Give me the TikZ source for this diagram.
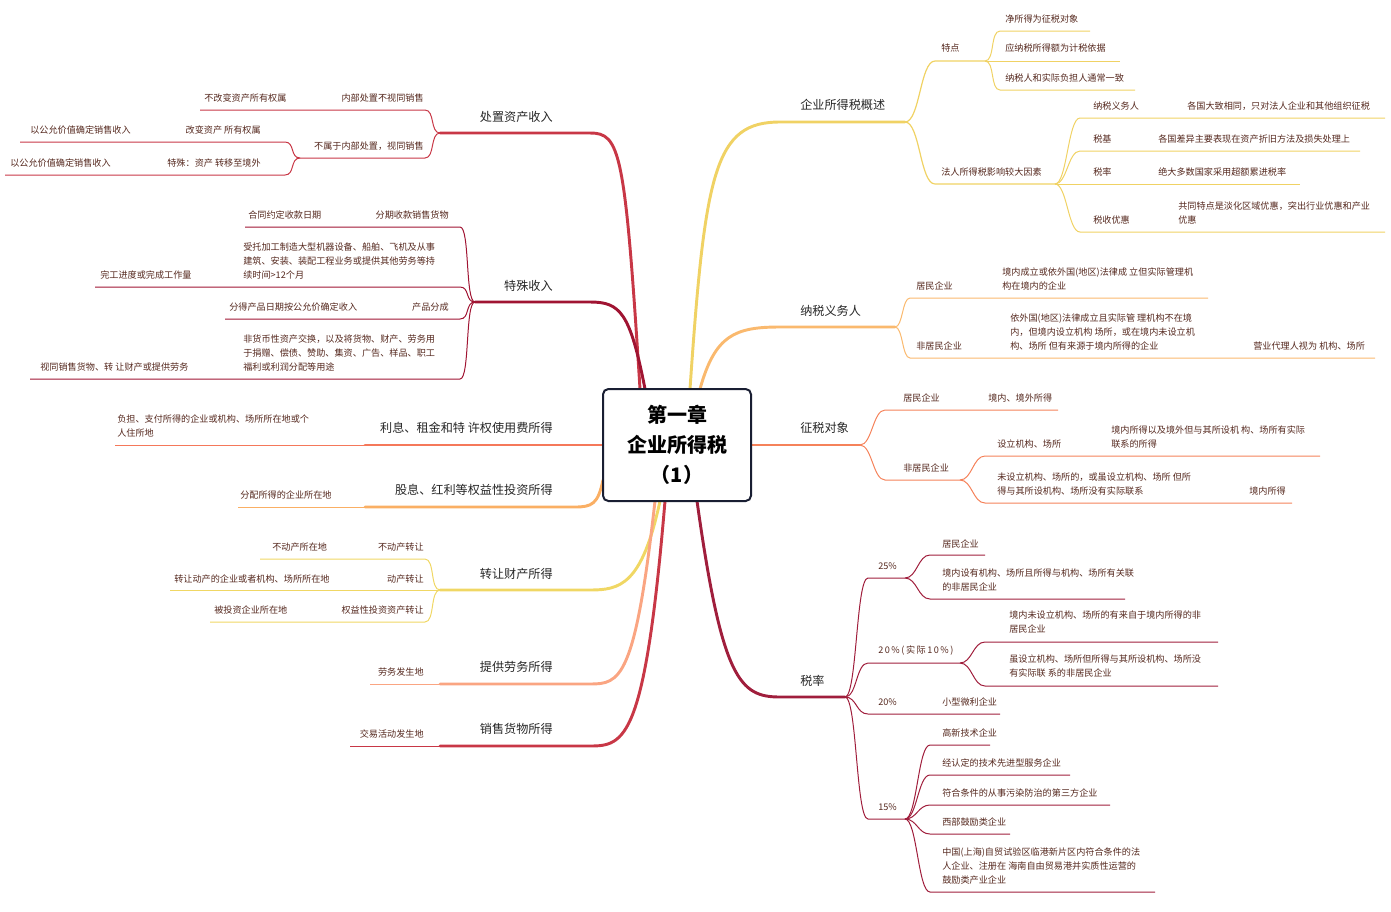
\documentclass[tikz,border=0pt]{standalone}
\usepackage{fontspec}
\setmainfont{Noto Sans CJK SC}
\usetikzlibrary{positioning}
\definecolor{gsum}{RGB}{240,210,100}
\definecolor{gduty}{RGB}{250,185,110}
\definecolor{gobj}{RGB}{245,130,90}
\definecolor{grate}{RGB}{160,30,60}
\definecolor{gdisp}{RGB}{200,55,70}
\definecolor{gspec}{RGB}{160,20,50}
\definecolor{gint}{RGB}{245,120,90}
\definecolor{gdiv}{RGB}{250,175,100}
\definecolor{gtran}{RGB}{240,215,100}
\definecolor{gserv}{RGB}{250,165,130}
\definecolor{leafc}{RGB}{85,40,30}
\definecolor{navy}{RGB}{25,30,50}

\begin{document}
\begin{tikzpicture}[x=0.75pt, y=-0.75pt,
    leaf/.style={font=\fontsize{6.85}{10.5}\selectfont, text=leafc, inner sep=0pt, anchor=west, align=left},
    leafr/.style={leaf, anchor=east},
    branch/.style={font=\fontsize{9.1}{11}\selectfont, text=black!85, inner sep=0pt, anchor=west},
    branchr/.style={branch, anchor=east},
    main/.style={line width=2.2pt, line cap=round},
    mid/.style={line width=0.9pt},
    thin/.style={line width=0.75pt},
]
\useasboundingbox (0,0) rectangle (1391,911);

% right: overview
\draw[main, gsum] (690,389) .. controls (705,170) and (715,122) .. (780,122) -- (905,122);
\node[branch] (sum) at (800,105) {企业所得税概述};
\coordinate (sumF) at (905,122);
\draw[mid, gsum] (sumF) .. controls +(15,0) and +(-15,0) .. (935,61) -- (985,61);
\node[leaf] (feat) at (941,48) {特点};
\coordinate (featF) at (985,61);
\draw[thin, gsum] (featF) .. controls +(10,0) and +(-10,0) .. (1000,31) -- (1090,31);
\draw[thin, gsum] (featF) -- (1120,61);
\draw[thin, gsum] (featF) .. controls +(10,0) and +(-10,0) .. (1000,90) -- (1135,90);
\node[leaf] (feat1) at (1005,19) {净所得为征税对象};
\node[leaf] (feat2) at (1005,48) {应纳税所得额为计税依据};
\node[leaf] (feat3) at (1005,78) {纳税人和实际负担人通常一致};
\draw[mid, gsum] (sumF) .. controls +(15,0) and +(-15,0) .. (935,184) -- (1055,184);
\node[leaf] (fact) at (941,172) {法人所得税影响较大因素};
\coordinate (factF) at (1055,184);
\draw[thin, gsum] (factF) .. controls +(12,0) and +(-12,0) .. (1080,118) -- (1385,118);
\draw[thin, gsum] (factF) .. controls +(12,0) and +(-12,0) .. (1080,151) -- (1360,151);
\draw[thin, gsum] (factF) -- (1300,184);
\draw[thin, gsum] (factF) .. controls +(12,0) and +(-12,0) .. (1080,232) -- (1385,232);
\node[leaf] (fa1) at (1093,106) {纳税义务人};
\node[leaf] (fa1v) at (1187,106) {各国大致相同，只对法人企业和其他组织征税};
\node[leaf] (fa2) at (1093,139) {税基};
\node[leaf] (fa2v) at (1158,139) {各国差异主要表现在资产折旧方法及损失处理上};
\node[leaf] (fa3) at (1093,172) {税率};
\node[leaf] (fa3v) at (1158,172) {绝大多数国家采用超额累进税率};
\node[leaf] (fa4) at (1093,220) {税收优惠};
\node[leaf] (fa4v) at (1178,213) {共同特点是淡化区域优惠，突出行业优惠和产业\\优惠};

% right: taxpayers
\draw[main, gduty] (700,389) .. controls (715,335) and (735,327) .. (780,327) -- (895,327);
\node[branch] (duty) at (800,311) {纳税义务人};
\coordinate (dutyF) at (895,327);
\draw[thin, gduty] (dutyF) .. controls +(8,0) and +(-8,0) .. (910,298) -- (1208,298);
\draw[thin, gduty] (dutyF) .. controls +(8,0) and +(-8,0) .. (910,358) -- (1375,358);
\node[leaf] (res) at (916,286) {居民企业};
\node[leaf] (resv) at (1002,279) {境内成立或依外国(地区)法律成 立但实际管理机\\构在境内的企业};
\node[leaf] (nres) at (916,346) {非居民企业};
\node[leaf] (nresv) at (1010,332) {依外国(地区)法律成立且实际管 理机构不在境\\内，但境内设立机构 场所，或在境内未设立机\\构、场所 但有来源于境内所得的企业};
\node[leaf] (agent) at (1253,346) {营业代理人视为 机构、场所};

% right: taxable objects
\draw[main, gobj] (751,445) -- (860,445);
\node[branch] (obj) at (800,428) {征税对象};
\coordinate (objF) at (860,445);
\draw[thin, gobj] (objF) .. controls +(12,0) and +(-12,0) .. (885,410) -- (1058,410);
\draw[thin, gobj] (objF) .. controls +(12,0) and +(-12,0) .. (885,480) -- (960,480);
\node[leaf] (ores) at (903,398) {居民企业};
\node[leaf] (oresv) at (988,398) {境内、境外所得};
\node[leaf] (onres) at (903,468) {非居民企业};
\coordinate (onresF) at (960,480);
\draw[thin, gobj] (onresF) .. controls +(12,0) and +(-12,0) .. (985,456) -- (1320,456);
\draw[thin, gobj] (onresF) .. controls +(12,0) and +(-12,0) .. (985,503) -- (1292,503);
\node[leaf] (est) at (997,444) {设立机构、场所};
\node[leaf] (estv) at (1111,437) {境内所得以及境外但与其所设机 构、场所有实际\\联系的所得};
\node[leaf] (nest) at (997,484) {未设立机构、场所的，或虽设立机构、场所 但所\\得与其所设机构、场所没有实际联系};
\node[leaf] (nestv) at (1249,491) {境内所得};

% right: rates
\draw[main, grate] (697,501) .. controls (722,680) and (740,697) .. (780,697) -- (845,697);
\node[branch] (rate) at (800,681) {税率};
\coordinate (rateF) at (845,697);
\draw[thin, grate] (rateF) .. controls +(12,0) and +(-12,0) .. (868,578) -- (905,578);
\draw[thin, grate] (rateF) .. controls +(12,0) and +(-12,0) .. (868,663) -- (960,663);
\draw[thin, grate] (rateF) .. controls +(12,0) and +(-12,0) .. (868,714) -- (1000,714);
\draw[thin, grate] (rateF) .. controls +(12,0) and +(-12,0) .. (868,819) -- (905,819);
\node[leaf] (r25) at (878,566) {25\%};
\node[leaf] (r20a) at (878,651) {2\,0\,\%\,(\,实\,际\,1\,0\,\%\,)};
\node[leaf] (r20b) at (878,702) {20\%};
\node[leaf] (r20bv) at (942,702) {小型微利企业};
\node[leaf] (r15) at (878,807) {15\%};
\coordinate (r25F) at (905,578);
\draw[thin, grate] (r25F) .. controls +(12,0) and +(-12,0) .. (930,555) -- (985,555);
\draw[thin, grate] (r25F) .. controls +(12,0) and +(-12,0) .. (930,599) -- (1125,599);
\node[leaf] (r25a) at (942,544) {居民企业};
\node[leaf] (r25b) at (942,580) {境内设有机构、场所且所得与机构、场所有关联\\的非居民企业};
\coordinate (r20F) at (960,663);
\draw[thin, grate] (r20F) .. controls +(12,0) and +(-12,0) .. (985,642) -- (1218,642);
\draw[thin, grate] (r20F) .. controls +(12,0) and +(-12,0) .. (985,686) -- (1218,686);
\node[leaf] (r20aa) at (1009,622) {境内未设立机构、场所的有来自于境内所得的非\\居民企业};
\node[leaf] (r20ab) at (1009,666) {虽设立机构、场所但所得与其所设机构、场所没\\有实际联 系的非居民企业};
\coordinate (r15F) at (905,819);
\draw[thin, grate] (r15F) .. controls +(12,0) and +(-12,0) .. (930,745) -- (990,745);
\draw[thin, grate] (r15F) .. controls +(12,0) and +(-12,0) .. (930,775) -- (1070,775);
\draw[thin, grate] (r15F) .. controls +(12,0) and +(-12,0) .. (930,805) -- (1110,805);
\draw[thin, grate] (r15F) .. controls +(12,0) and +(-12,0) .. (930,834) -- (1010,834);
\draw[thin, grate] (r15F) .. controls +(12,0) and +(-12,0) .. (930,892) -- (1155,892);
\node[leaf] (r15a) at (942,733) {高新技术企业};
\node[leaf] (r15b) at (942,763) {经认定的技术先进型服务企业};
\node[leaf] (r15c) at (942,793) {符合条件的从事污染防治的第三方企业};
\node[leaf] (r15d) at (942,822) {西部鼓励类企业};
\node[leaf] (r15e) at (942,866) {中国(上海)自贸试验区临港新片区内符合条件的法\\人企业、注册在 海南自由贸易港并实质性运营的\\鼓励类产业企业};

% left: asset disposal
\draw[main, gdisp] (640,389) .. controls (625,150) and (620,133) .. (590,133) -- (440,133);
\node[branchr] (disp) at (553,117) {处置资产收入};
\coordinate (dispF) at (440,133);
\draw[thin, gdisp] (dispF) .. controls +(-10,0) and +(10,0) .. (425,110) -- (200,110);
\draw[thin, gdisp] (dispF) .. controls +(-10,0) and +(10,0) .. (425,158) -- (300,158);
\node[leafr] (inner) at (424,98) {内部处置不视同销售};
\node[leaf] (innerv) at (204,98) {不改变资产所有权属};
\node[leafr] (outer) at (424,146) {不属于内部处置，视同销售};
\coordinate (outerF) at (300,158);
\draw[thin, gdisp] (outerF) .. controls +(-10,0) and +(10,0) .. (285,142) -- (20,142);
\draw[thin, gdisp] (outerF) .. controls +(-10,0) and +(10,0) .. (285,175) -- (5,175);
\node[leafr] (own) at (261,130) {改变资产 所有权属};
\node[leaf] (ownv) at (30,130) {以公允价值确定销售收入};
\node[leafr] (abroad) at (261,163) {特殊：资产 转移至境外};
\node[leaf] (abroadv) at (10,163) {以公允价值确定销售收入};

% left: special income
\draw[main, gspec] (645,389) .. controls (630,312) and (620,302) .. (590,302) -- (475,302);
\node[branchr] (spec) at (553,286) {特殊收入};
\coordinate (specF) at (475,302);
\draw[thin, gspec] (specF) .. controls +(-10,0) and +(10,0) .. (460,227) -- (245,227);
\draw[thin, gspec] (specF) .. controls +(-10,0) and +(10,0) .. (460,287) -- (95,287);
\draw[thin, gspec] (specF) .. controls +(-10,0) and +(10,0) .. (460,319) -- (225,319);
\draw[thin, gspec] (specF) .. controls +(-10,0) and +(10,0) .. (460,379) -- (30,379);
\node[leafr] (inst) at (449,215) {分期收款销售货物};
\node[leaf] (instv) at (248,215) {合同约定收款日期};
\node[leaf] (proc) at (243,261) {受托加工制造大型机器设备、船舶、飞机及从事\\建筑、安装、装配工程业务或提供其他劳务等持\\续时间>12个月};
\node[leaf] (procv) at (100,275) {完工进度或完成工作量};
\node[leafr] (share) at (449,307) {产品分成};
\node[leaf] (sharev) at (229,307) {分得产品日期按公允价确定收入};
\node[leaf] (nmon) at (243,353) {非货币性资产交换，以及将货物、财产、劳务用\\于捐赠、偿债、赞助、集资、广告、样品、职工\\福利或利润分配等用途};
\node[leaf] (nmonv) at (40,367) {视同销售货物、转 让财产或提供劳务};

% left: interest, rent, royalties
\draw[main, gint] (603,445) -- (365,445);
\draw[thin, gint] (365,445) -- (115,445);
\node[branchr] (int) at (553,428) {利息、租金和特 许权使用费所得};
\node[leaf] (intv) at (117,426) {负担、支付所得的企业或机构、场所所在地或个\\人住所地};

% left: dividends
\draw[main, gdiv] (603,480) .. controls (598,504) and (592,507) .. (575,507) -- (365,507);
\draw[thin, gdiv] (365,507) -- (238,507);
\node[branchr] (div) at (553,490) {股息、红利等权益性投资所得};
\node[leaf] (divv) at (240,495) {分配所得的企业所在地};

% left: property transfer
\draw[main, gtran] (660,501) .. controls (642,585) and (620,590) .. (590,590) -- (440,590);
\node[branchr] (tran) at (553,574) {转让财产所得};
\coordinate (tranF) at (440,590);
\draw[thin, gtran] (tranF) .. controls +(-10,0) and +(10,0) .. (425,559) -- (260,559);
\draw[thin, gtran] (tranF) -- (170,590);
\draw[thin, gtran] (tranF) .. controls +(-10,0) and +(10,0) .. (425,622) -- (210,622);
\node[leafr] (immo) at (424,547) {不动产转让};
\node[leaf] (immov) at (272,547) {不动产所在地};
\node[leafr] (mov) at (424,579) {动产转让};
\node[leaf] (movv) at (174,579) {转让动产的企业或者机构、场所所在地};
\node[leafr] (eq) at (424,610) {权益性投资资产转让};
\node[leaf] (eqv) at (214,610) {被投资企业所在地};

% left: services, goods
\draw[main, gserv] (655,501) .. controls (635,680) and (620,684) .. (590,684) -- (440,684);
\draw[thin, gserv] (440,684) -- (370,684);
\node[branchr] (serv) at (553,667) {提供劳务所得};
\node[leafr] (servv) at (424,672) {劳务发生地};
\draw[main, gdisp] (665,501) .. controls (645,740) and (625,746) .. (590,746) -- (440,746);
\draw[thin, gdisp] (440,746) -- (350,746);
\node[branchr] (goods) at (553,729) {销售货物所得};
\node[leafr] (goodsv) at (424,734) {交易活动发生地};

% centre
\node[draw=navy, line width=1.5pt, fill=white, rounded corners=4pt, minimum width=148*0.75pt, minimum height=112*0.75pt,
      align=center, font=\fontsize{15}{22.5}\selectfont\bfseries] (root) at (677,445) {第一章\\企业所得税\\（1）};
\end{tikzpicture}
\end{document}
